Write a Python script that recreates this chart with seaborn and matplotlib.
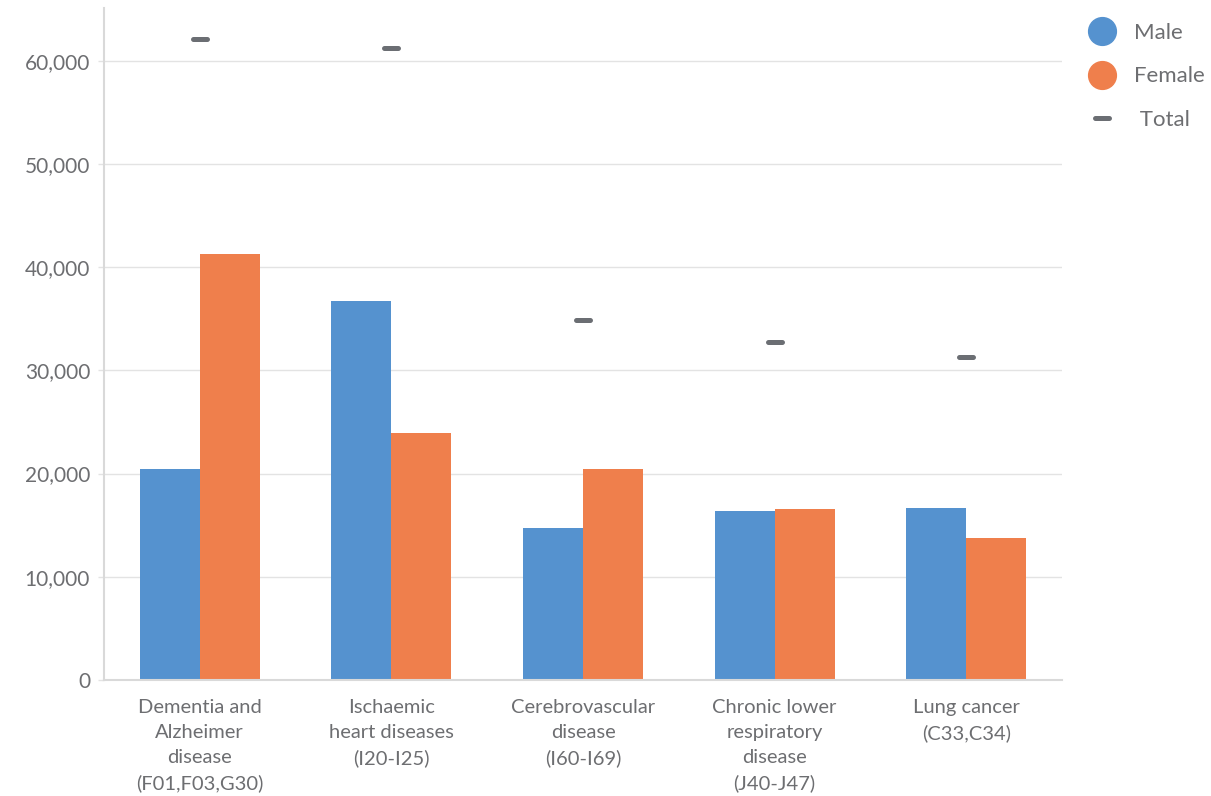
import matplotlib
matplotlib.use("Agg")
import matplotlib.pyplot as plt
from matplotlib.lines import Line2D
from matplotlib.markers import MarkerStyle
from matplotlib.ticker import FuncFormatter
import seaborn as sns
import pandas as pd

# Leading causes of death, by sex
causes = [
    "Dementia and\nAlzheimer\ndisease\n(F01,F03,G30)",
    "Ischaemic\nheart diseases\n(I20-I25)",
    "Cerebrovascular\ndisease\n(I60-I69)",
    "Chronic lower\nrespiratory\ndisease\n(J40-J47)",
    "Lung cancer\n(C33,C34)",
]
male = [20400, 36700, 14700, 16400, 16700]
female = [41300, 23900, 20400, 16600, 13800]
total = [62100, 61200, 34900, 32700, 31300]
yticks = [0, 10000, 20000, 30000, 40000, 50000, 60000]

MALE_C = "#5592cf"
FEMALE_C = "#ef7f4c"
TOTAL_C = "#6b6e73"
TEXT_C = "#6d6e71"
GRID_C = "#e3e3e3"

sns.set_theme(style="white")
plt.rcParams["font.family"] = ["Lato", "DejaVu Sans"]

df = pd.DataFrame({
    "cause": causes * 2,
    "sex": ["Male"] * len(causes) + ["Female"] * len(causes),
    "deaths": male + female,
})

fig = plt.figure(figsize=(12.11, 7.96), dpi=100)
ax = fig.add_axes([104 / 1211, 0.1457, (1062 - 104) / 1211, 0.99 - 0.1457])

sns.barplot(data=df, x="cause", y="deaths", hue="sex", order=causes,
            hue_order=["Male", "Female"],
            palette={"Male": MALE_C, "Female": FEMALE_C},
            width=0.626, saturation=1, linewidth=0, legend=False,
            ax=ax, zorder=2)

dash = MarkerStyle("_", capstyle="round")
sns.pointplot(x=causes, y=total, order=causes, linestyle="none",
              marker=dash, markersize=9.4, markeredgewidth=3.6,
              color=TOTAL_C, errorbar=None, ax=ax, zorder=3)

ax.set_xlim(-0.5, len(causes) - 0.5)
ax.set_ylim(0, 65100)
ax.set_yticks(yticks)
ax.yaxis.set_major_formatter(FuncFormatter(lambda v, p: f"{int(v):,}"))
ax.set_xlabel("")
ax.set_ylabel("")

ax.grid(axis="y", color=GRID_C, linewidth=1.0, zorder=0)
ax.set_axisbelow(True)
for side in ("top", "right"):
    ax.spines[side].set_visible(False)
for side in ("left", "bottom"):
    ax.spines[side].set_color("#d9d9d9")
    ax.spines[side].set_linewidth(1.5)

ax.tick_params(axis="y", which="both", left=True, length=4, width=1,
               color=GRID_C, labelsize=15, labelcolor=TEXT_C, pad=6)
ax.tick_params(axis="x", bottom=False, labelsize=14.5, labelcolor=TEXT_C, pad=8)
for lbl in ax.get_xticklabels():
    lbl.set_linespacing(1.55)
    lbl.set_verticalalignment("top")

handles = [
    Line2D([], [], linestyle="none", marker="o", markersize=20,
           markerfacecolor=MALE_C, markeredgecolor=MALE_C),
    Line2D([], [], linestyle="none", marker="o", markersize=20,
           markerfacecolor=FEMALE_C, markeredgecolor=FEMALE_C),
    Line2D([], [], linestyle="none", marker=dash, markersize=9.4,
           markeredgewidth=3.6, color=TOTAL_C),
]
fig.legend(handles, ["Male", "Female", " Total"], loc="upper left",
           bbox_to_anchor=(0.873, 0.999), frameon=False, fontsize=16,
           labelcolor=TEXT_C, handletextpad=0.44, labelspacing=1.05,
           borderaxespad=0.6)

fig.savefig("out.png", dpi=100, facecolor="white")
